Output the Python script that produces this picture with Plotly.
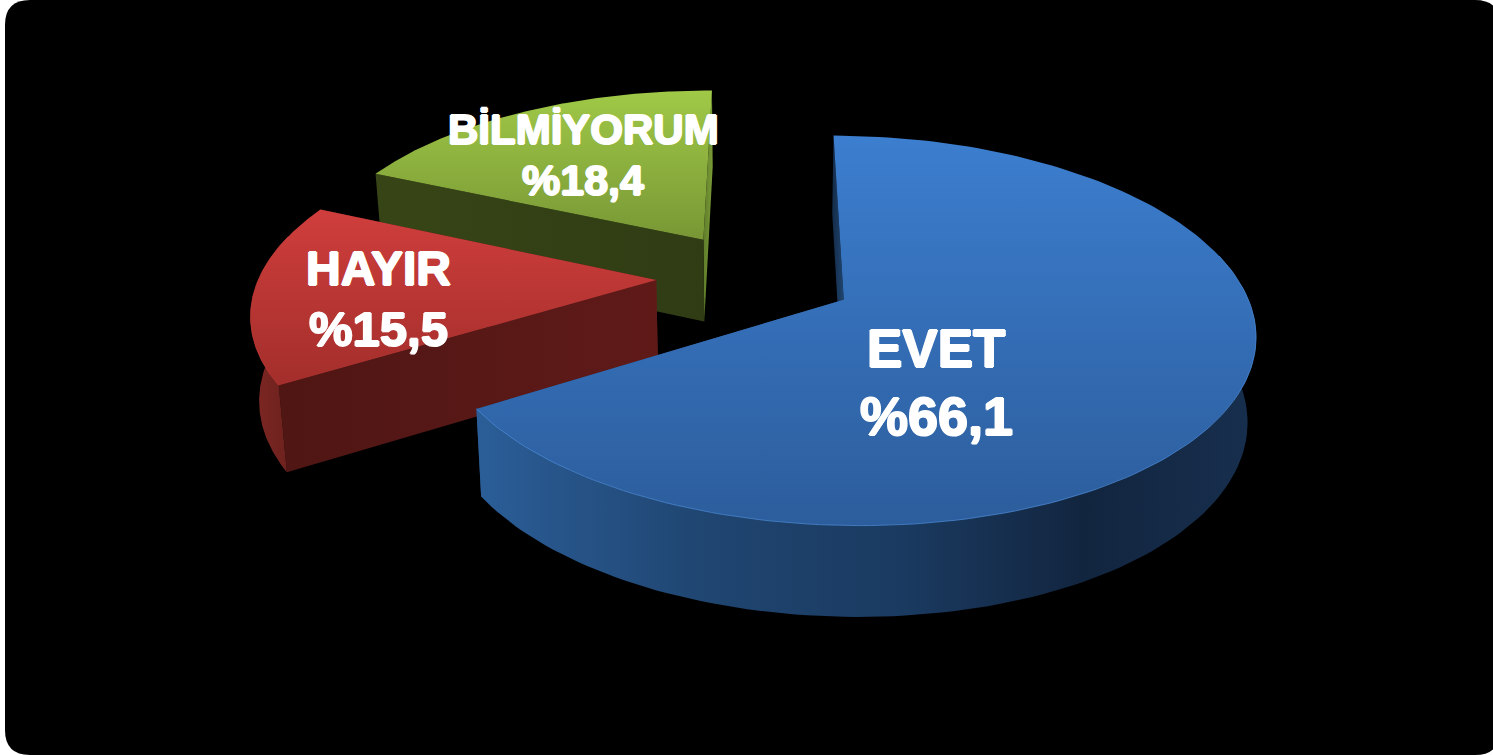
import math
import plotly.graph_objects as go

# ---- data ----
categories = ["EVET", "HAYIR", "BİLMİYORUM"]
values = [66.1, 15.5, 18.4]
value_labels = ["%66,1", "%15,5", "%18,4"]

# ---- projection of the tilted, exploded pie ----
CX, CY = 755.5, 277.0
A, B = 397.0, 183.0
PERSP = 0.155
EXPLODE = 0.25
DEPTH = 83.0
SHRINK = 0.983
START_DEG = 0.3

# ---- styles, by category ----
TOP = {
    "EVET": ["#3c7ecf", "#2c5d9c"],
    "HAYIR": ["#cf3e3c", "#a32e2b"],
    "BİLMİYORUM": ["#a0c947", "#789735"],
}
OUTER = {
    "EVET": [[0, "#2b5e98"], [0.1, "#27558a"], [0.3, "#1f4570"], [0.55, "#1a3a60"], [0.78, "#12253f"], [1, "#172f4e"]],
    "HAYIR": [[0, "#7e2723"], [1, "#6a201d"]],
    "BİLMİYORUM": [[0, "#4d6322"], [1, "#4d6322"]],
}
RADIAL_START = {
    "EVET": [[0, "#142b47"], [1, "#1f4570"]],
    "HAYIR": [[0, "#4f1614"], [1, "#5f1a18"]],
    "BİLMİYORUM": [[0, "#374516"], [1, "#303c14"]],
}
RADIAL_END = {
    "EVET": [[0, "#1f4570"], [1, "#1f4570"]],
    "HAYIR": [[0, "#551816"], [1, "#5f1a18"]],
    "BİLMİYORUM": [[0, "#5f7c2a"], [1, "#7a9c36"]],
}
RIM = {"EVET": "#4b8ad6", "HAYIR": "#c23a36", "BİLMİYORUM": "#8fb33f"}


def project(theta, radius, off_x, off_d, lowered=False):
    wx = radius * math.sin(theta) + off_x
    wd = radius * math.cos(theta) + off_d
    s = 1.0 / (1.0 + PERSP * wd)
    x = CX + A * wx * s
    y = CY - B * wd * s
    if lowered:
        x = CX + (x - CX) * SHRINK
        y += DEPTH * math.sqrt(s)
    return x, y


def add_poly(fig, pts, scale, kind):
    fig.add_trace(go.Scatter(
        x=[p[0] for p in pts], y=[p[1] for p in pts],
        mode="lines", fill="toself", line=dict(width=0),
        fillgradient=dict(type=kind, colorscale=scale),
        hoverinfo="skip", showlegend=False,
    ))


fig = go.Figure()

total = sum(values)
spans = {}
cursor = math.radians(START_DEG)
for cat, val in zip(categories, values):
    sweep = 2 * math.pi * val / total
    spans[cat] = (cursor, cursor + sweep)
    cursor += sweep

# painter's order: furthest slice first
for cat in reversed(categories):
    t0, t1 = spans[cat]
    mid = (t0 + t1) / 2
    ox, od = EXPLODE * math.sin(mid), EXPLODE * math.cos(mid)
    n = 160
    thetas = [t0 + (t1 - t0) * i / n for i in range(n + 1)]

    # radial walls (the one facing the viewer is drawn last)
    for t, scale in ((t1, RADIAL_END[cat]), (t0, RADIAL_START[cat])):
        pts = [project(t, 1, ox, od), project(t, 0, ox, od),
               project(t, 0, ox, od, True), project(t, 1, ox, od, True)]
        pts.append(pts[0])
        add_poly(fig, pts, scale, "horizontal")

    # outer wall: only the part that faces the viewer
    front = [t for t in thetas if math.cos(t) < 0.25]
    if front:
        top_arc = [project(t, 1, ox, od) for t in front]
        low_arc = [project(t, 1, ox, od, True) for t in reversed(front)]
        add_poly(fig, top_arc + low_arc + [top_arc[0]], OUTER[cat], "horizontal")

    # top face
    arc = [project(t, 1, ox, od) for t in thetas]
    apex = project(0, 0, ox, od)
    add_poly(fig, [apex] + arc + [apex], [[0, TOP[cat][1]], [1, TOP[cat][0]]], "vertical")

    # bright rim along the viewer-facing edge
    if front:
        rim = [project(t, 1, ox, od) for t in front]
        fig.add_trace(go.Scatter(
            x=[p[0] for p in rim], y=[p[1] for p in rim], mode="lines",
            line=dict(color=RIM[cat], width=1), opacity=0.8,
            hoverinfo="skip", showlegend=False,
        ))

# ---- texts ----
HEAVY = "1px 0 0 #fff, -1px 0 0 #fff, 0 1px 0 #fff, 0 -1px 0 #fff"
text_layout = {
    "EVET": ((936, 348, 53), (936, 416, 54)),
    "HAYIR": ((378, 268, 48), (378, 329, 49)),
    "BİLMİYORUM": ((583, 129, 42), (583, 180, 43)),
}
annotations = []
for cat, lab in zip(categories, value_labels):
    for txt, (tx, ty, size) in zip((cat, lab), text_layout[cat]):
        annotations.append(dict(
            x=tx, y=ty, xref="x", yref="y", text=txt, showarrow=False,
            xanchor="center", yanchor="middle",
            font=dict(family="Liberation Sans", size=size, color="white", weight=700, shadow=HEAVY),
        ))

R = 25
L, Rt, T, Bm = 5, 1500, 0, 755
bg_path = (f"M {L+R} {T} L {Rt-R} {T} Q {Rt} {T} {Rt} {T+R} L {Rt} {Bm-R} Q {Rt} {Bm} {Rt-R} {Bm} "
           f"L {L+R} {Bm} Q {L} {Bm} {L} {Bm-R} L {L} {T+R} Q {L} {T} {L+R} {T} Z")

fig.update_layout(
    width=1493, height=755, margin=dict(l=0, r=0, t=0, b=0),
    paper_bgcolor="white", plot_bgcolor="rgba(0,0,0,0)",
    xaxis=dict(range=[0, 1493], visible=False, fixedrange=True),
    yaxis=dict(range=[755, 0], visible=False, fixedrange=True),
    shapes=[dict(type="path", path=bg_path, fillcolor="black", line=dict(width=0), layer="below",
                 xref="x", yref="y")],
    annotations=annotations,
    showlegend=False,
)

fig.write_html("out.html", config={"displayModeBar": False},
               post_script="document.body.style.margin='0';document.body.style.overflow='hidden';")
